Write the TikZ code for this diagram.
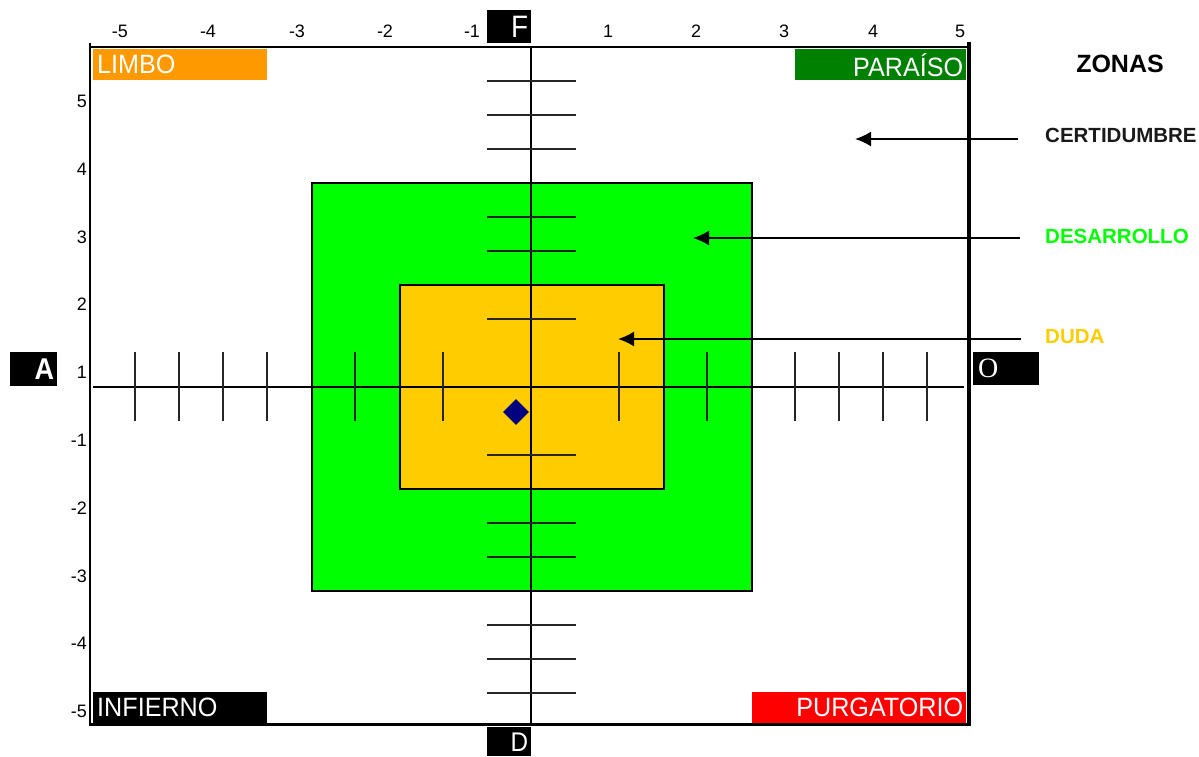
\documentclass[tikz,border=0pt]{standalone}
\usepackage{fontspec}
\setmainfont{Liberation Sans}
\newfontfamily\cornerfont[FakeStretch=0.95]{Liberation Sans}
\newfontfamily\letterfont[FakeStretch=0.9]{Liberation Sans}
\newfontfamily\serifletter{Liberation Serif}
\usetikzlibrary{arrows.meta,shapes.geometric}
\definecolor{limbo}{HTML}{FF9900}
\definecolor{paraiso}{HTML}{008000}
\definecolor{purga}{HTML}{FF0000}
\definecolor{desa}{HTML}{00FF00}
\definecolor{duda}{HTML}{FFCC00}
\definecolor{navy}{HTML}{000080}
\definecolor{certi}{HTML}{1A1A1A}
\begin{document}
\begin{tikzpicture}[x=1pt,y=-1pt,
  ticklab/.style={font=\fontsize{18}{18}\selectfont, inner sep=0pt, text=black},
  corner/.style={anchor=north west, inner sep=0pt, minimum height=31pt, text=white,
    font=\cornerfont\fontsize{26.5}{26.5}\selectfont},
  letterbox/.style={anchor=north west, fill=black, inner sep=0pt, text=white,
    font=\letterfont\fontsize{31}{31}\selectfont},
  zonelab/.style={anchor=west, inner sep=0pt, font=\fontsize{20.5}{20.5}\selectfont\bfseries},
  zonebox/.style={draw=black, line width=1.5pt, inner sep=0pt},
  axisline/.style={draw=black, line width=1.8pt},
  tickline/.style={draw=black!85, line width=2pt},
  framelin/.style={draw=black, line cap=rect},
  zonearrow/.style={draw=black, line width=2pt, -{Latex[length=16pt,width=15pt]}}
]
\useasboundingbox (0,0) rectangle (1199,756);

% zone boxes
\node[zonebox, fill=desa, minimum width=440pt, minimum height=408pt] (green) at (532,387) {};
\node[zonebox, fill=duda, minimum width=264pt, minimum height=204pt] (yellow) at (532,387) {};

% axes
\coordinate (hl) at (93,387);
\coordinate (hr) at (964,387);
\coordinate (vt) at (531,47);
\coordinate (vb) at (531,724);
\draw[axisline] (hl) -- (hr);
\draw[axisline] (vt) -- (vb);

% ticks on horizontal axis
\foreach \k in {2,4,6,7,8,9} {
  \draw[tickline] (531-44*\k,352) -- (531-44*\k,421);
  \draw[tickline] (531+44*\k,352) -- (531+44*\k,421);
}
% ticks on vertical axis
\foreach \k in {2,4,5,7,8,9} {
  \draw[tickline] (487,387-34*\k) -- (576,387-34*\k);
  \draw[tickline] (487,387+34*\k) -- (576,387+34*\k);
}

% point
\node[diamond, fill=navy, minimum width=26pt, minimum height=26pt, inner sep=0pt] (pt) at (516,412) {};

% corner labels
\node[corner, fill=limbo, minimum width=174pt, text width=166pt, align=left] (limbo) at (93,49) {LIMBO};
\node[corner, fill=paraiso, minimum width=171pt, text width=165pt, align=right] (paraiso) at (795,49) {PARAÍSO};
\node[corner, fill=black, minimum width=174pt, text width=166pt, align=left] (infierno) at (93,692) {INFIERNO};
\node[corner, fill=purga, minimum width=214pt, text width=208pt, align=right] (purgatorio) at (752,692) {PURGATORIO};

% frame
\draw[framelin, line width=2pt] (90,47) -- (968,47);
\draw[framelin, line width=2pt] (90,44) -- (90,724);
\draw[framelin, line width=3pt] (90,724) -- (969,724);
\draw[framelin, line width=4pt] (969,44) -- (969,724);

% top tick labels
\foreach \v/\x in {-5/120,-4/208,-3/297,-2/385,-1/472,1/608,2/696,3/784,4/873,5/960}
  \node[ticklab] (top\x) at (\x,31) {\v};
% left tick labels
\foreach \v/\y in {5/101,4/169,3/237,2/304,1/372,-1/440,-2/508,-3/576,-4/643,-5/711}
  \node[ticklab, anchor=east] (left\y) at (87,\y) {\v};

% direction letters
\node[letterbox, minimum width=47pt, minimum height=34pt, text width=41pt, align=right, font=\letterfont\fontsize{30}{30}\selectfont\bfseries] (A) at (10,352) {A};
\node[letterbox, minimum width=44pt, minimum height=33pt, text width=38pt, align=right] (F) at (487,10) {F};
\node[letterbox, minimum width=44pt, minimum height=29pt, text width=38pt, align=right, font=\letterfont\fontsize{27}{27}\selectfont] (D) at (487,727) {D};
\node[letterbox, minimum width=66pt, minimum height=33pt, text width=56pt, align=left, font=\serifletter\fontsize{28}{28}\selectfont] (O) at (973,352) {O};

% legend
\node[anchor=center, inner sep=0pt, font=\fontsize{25}{25}\selectfont\bfseries] (zonas) at (1120,64) {ZONAS};
\node[zonelab, text=certi] (certidumbre) at (1045,135) {CERTIDUMBRE};
\node[zonelab, text=desa] (desarrollo) at (1045,236) {DESARROLLO};
\node[zonelab, text=duda] (dudalab) at (1045,337) {DUDA};

\coordinate (cs) at (1018,139);
\coordinate (ct) at (855,139);
\coordinate (ds) at (1020,238);
\coordinate (dt) at (693,238);
\coordinate (us) at (1021,339);
\coordinate (ut) at (618,339);
\draw[zonearrow] (cs) -- (ct);
\draw[zonearrow] (ds) -- (dt);
\draw[zonearrow] (us) -- (ut);
\end{tikzpicture}
\end{document}
